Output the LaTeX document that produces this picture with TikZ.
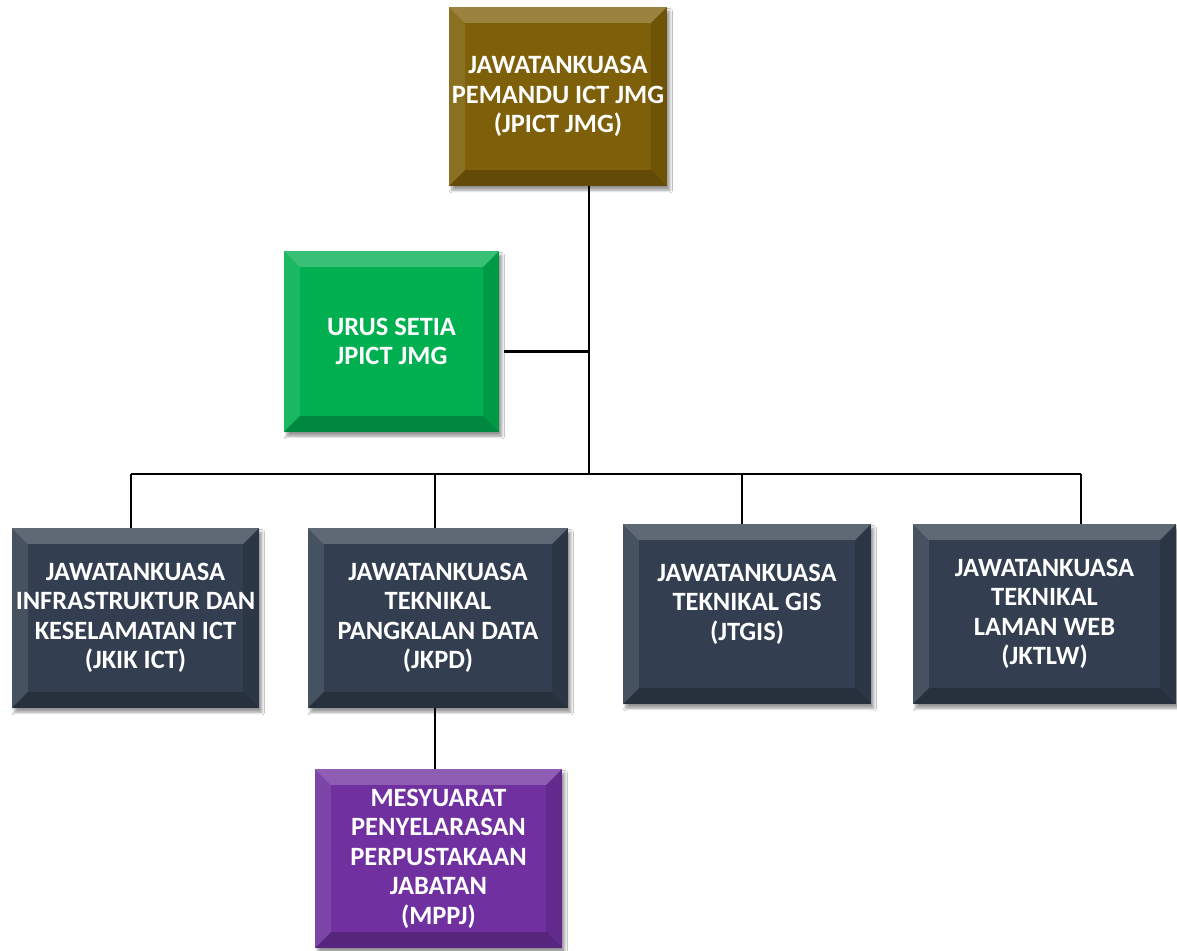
\documentclass[tikz,border=0pt]{standalone}
\usepackage{fontspec}
\setmainfont{Carlito}
\usepackage{tikz}
\usetikzlibrary{calc,shadows.blur}
\definecolor{goldbox}{RGB}{127,96,10}
\definecolor{greenbox}{RGB}{0,176,80}
\definecolor{slatebox}{RGB}{51,63,80}
\definecolor{purplebox}{RGB}{112,48,160}
\newcommand{\bev}{0.4cm}
\tikzset{
   main node/.style={rectangle,text=white,align=center,inner sep=2pt,
                     font=\bfseries\fontsize{18.8}{21}\selectfont,
                     blur shadow={shadow xshift=2pt,shadow yshift=-3pt,shadow blur steps=6},
                     bevel node},
   bevel node/.style={path picture={
      \fill[white,opacity=.22] (path picture bounding box.north west) -- (path picture bounding box.north east)
         -- ([xshift=-\bev,yshift=-\bev]path picture bounding box.north east) -- ([xshift=\bev,yshift=-\bev]path picture bounding box.north west) -- cycle;
      \fill[white,opacity=.10] (path picture bounding box.north west) -- (path picture bounding box.south west)
         -- ([xshift=\bev,yshift=\bev]path picture bounding box.south west) -- ([xshift=\bev,yshift=-\bev]path picture bounding box.north west) -- cycle;
      \fill[black,opacity=.22] (path picture bounding box.south west) -- (path picture bounding box.south east)
         -- ([xshift=-\bev,yshift=\bev]path picture bounding box.south east) -- ([xshift=\bev,yshift=\bev]path picture bounding box.south west) -- cycle;
      \fill[black,opacity=.12] (path picture bounding box.north east) -- (path picture bounding box.south east)
         -- ([xshift=-\bev,yshift=\bev]path picture bounding box.south east) -- ([xshift=-\bev,yshift=-\bev]path picture bounding box.north east) -- cycle;
   }},
   link/.style={draw=black,line width=2.1pt}
}
\begin{document}
\begin{tikzpicture}[x=0.025cm,y=-0.025cm]
\useasboundingbox[fill=white] (0,0) rectangle (1177,951);

% pemandu
\node[main node, fill=goldbox, minimum width=5.4cm, minimum height=4.475cm] (1) at (558,96.5) {JAWATANKUASA\\PEMANDU ICT JMG\\(JPICT JMG)};

% urus setia
\node[main node, fill=greenbox, minimum width=5.375cm, minimum height=4.525cm] (2) at (391.5,341.5) {URUS SETIA\\JPICT JMG};

% jawatankuasa
\node[main node, fill=slatebox, minimum width=6.175cm, minimum height=4.5cm] (3) at (135.5,618) {JAWATANKUASA\\INFRASTRUKTUR DAN\\KESELAMATAN ICT\\(JKIK ICT)};
\node[main node, fill=slatebox, minimum width=6.5cm, minimum height=4.5cm] (4) at (438,618) {JAWATANKUASA\\TEKNIKAL\\PANGKALAN DATA\\(JKPD)};
\node[main node, fill=slatebox, minimum width=6.2cm, minimum height=4.5cm, text depth=0.6cm] (5) at (747,614) {JAWATANKUASA\\TEKNIKAL GIS\\(JTGIS)};
\node[main node, fill=slatebox, minimum width=6.575cm, minimum height=4.5cm] (6) at (1044.5,614) {JAWATANKUASA\\TEKNIKAL\\LAMAN WEB\\(JKTLW)};

% mesyuarat
\node[main node, fill=purplebox, minimum width=6.175cm, minimum height=4.475cm] (7) at (438.5,858.5) {MESYUARAT\\PENYELARASAN\\PERPUSTAKAAN\\JABATAN\\(MPPJ)};

\coordinate (j) at (589,474);
\coordinate (b3) at (131,474);
\coordinate (b4) at (435,474);
\coordinate (b5) at (742,474);
\coordinate (b6) at (1081,474);

\draw[link] (1.south -| j) -- (j);
\draw[link] ([xshift=0.125cm,yshift=-0.25cm]2.east) -- ([yshift=-0.25cm]2.east -| j);
\draw[link] (b3) -- (b6);
\draw[link] (b3) -- (3.north -| b3);
\draw[link] (b4) -- (4.north -| b4);
\draw[link] (b5) -- (5.north -| b5);
\draw[link] (b6) -- (6.north -| b6);
\draw[link] (4.south -| b4) -- (7.north -| b4);
\end{tikzpicture}
\end{document}
